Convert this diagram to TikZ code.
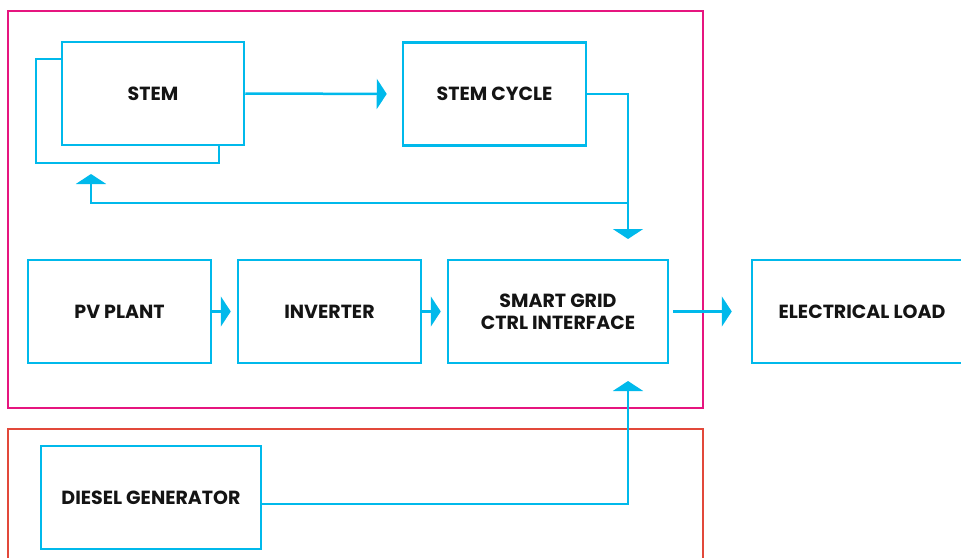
\documentclass[tikz,border=0pt]{standalone}
\usepackage{fontspec}
\setmainfont{Poppins}
\usetikzlibrary{arrows.meta}
\definecolor{cy}{HTML}{00B9EB}
\definecolor{mag}{HTML}{E6157F}
\definecolor{rd}{HTML}{E2483A}
\definecolor{txt}{HTML}{141414}
\tikzset{
  blk/.style={draw=cy, line width=2.5pt, fill=white, inner sep=0pt, align=center,
    font=\fontsize{19}{22}\selectfont\bfseries, text=txt, minimum height=103pt},
  conn/.style={draw=cy, line width=2.5pt, -{Triangle[length=10pt,width=30pt]}},
  frame/.style={line width=1.8pt}
}
\begin{document}
\begin{tikzpicture}[x=1pt,y=-1pt]
\useasboundingbox (0,0) rectangle (961,557);
\clip (0,0) rectangle (961,557);
\draw[frame, draw=mag] (8,11) rectangle (703,408);
\draw[frame, draw=rd] (8,429) rectangle (703,580);

\node[blk, minimum width=183pt, minimum height=104pt] (stemback) at (127.5,111) {};
\node[blk, minimum width=182pt] (stem) at (153,93.5) {STEM};
\node[blk, minimum width=183pt] (cycle) at (494.5,94) {STEM CYCLE};
\node[blk, minimum width=183pt] (pv) at (119.5,311.5) {PV PLANT};
\node[blk, minimum width=183pt] (inv) at (329.5,311.5) {INVERTER};
\node[blk, minimum width=220pt] (smart) at (558,311.5) {SMART GRID\\CTRL INTERFACE};
\node[blk, minimum width=220pt] (load) at (862,311.5) {ELECTRICAL LOAD};
\node[blk, minimum width=220pt] (diesel) at (151,497.5) {DIESEL GENERATOR};

\coordinate (sgtop) at (628,260);
\coordinate (sgbot) at (628,363);
\coordinate (junc) at (628,203);
\coordinate (fbend) at (91,163);
\coordinate (dout) at (261,504);

\draw[conn, shorten >=15pt] (stem.east) -- (cycle.west);
\draw[conn, shorten >=21pt] (cycle.east) -| (sgtop);
\draw[conn, shorten >=11pt] (junc) -| (fbend);
\draw[conn, shorten >=6pt] (pv.east) -- (inv.west);
\draw[conn, shorten >=6pt] (inv.east) -- (smart.west);
\draw[conn, shorten <=4pt, shorten >=19pt] (smart.east) -- (load.west);
\draw[conn, shorten >=18pt] (dout) -| (sgbot);
\end{tikzpicture}
\end{document}
